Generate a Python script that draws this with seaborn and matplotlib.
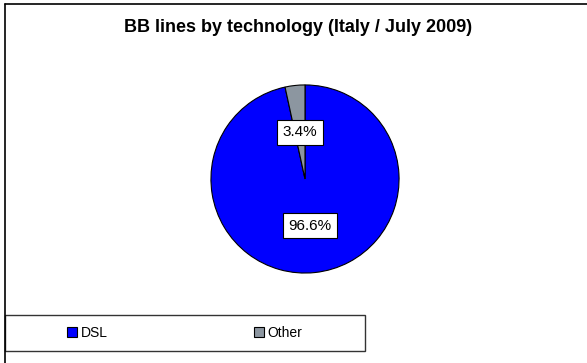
import matplotlib
matplotlib.use('Agg')
import matplotlib.pyplot as plt
import seaborn as sns
from matplotlib.lines import Line2D
from matplotlib.patches import Rectangle

# data
labels = ['DSL', 'Other']
shares = [96.6, 3.4]
colors = ['#0000FF', '#8C96A0']
title = 'BB lines by technology (Italy / July 2009)'

sns.set_style('white')
plt.rcParams['font.family'] = ['Liberation Sans', 'DejaVu Sans']
plt.rcParams['text.color'] = 'black'

W, H = 587, 363
fig = plt.figure(figsize=(W / 100, H / 100), dpi=100)

# pie axes: center ~ (305, 179) px, radius ~ 95 px
cx, cy, r = 305, 179, 95
ax = fig.add_axes([(cx - r) / W, (H - cy - r) / H, 2 * r / W, 2 * r / H])
wedges, texts, autotexts = ax.pie(
    shares, colors=colors, startangle=90, counterclock=False,
    autopct='%.1f%%', pctdistance=0.5,
    wedgeprops=dict(edgecolor='black', linewidth=0.8),
    textprops=dict(fontsize=11, color='black'))
for t in autotexts:
    t.set_bbox(dict(boxstyle='square,pad=0.35', facecolor='white', edgecolor='black', linewidth=0.8))
ax.set_xlim(-1.01, 1.01)
ax.set_ylim(-1.01, 1.01)
ax.set_aspect('equal')
ax.axis('off')

# title
fig.text(298 / W, 1 - 27 / H, title, ha='center', va='center',
         fontsize=13, fontweight='bold', color='black')

# outer chart frame (top and left edges visible)
fig.add_artist(Line2D([5 / W, 1], [1 - 4 / H, 1 - 4 / H], color='black', linewidth=1.2))
fig.add_artist(Line2D([5 / W, 5 / W], [0, 1 - 4 / H], color='black', linewidth=1.2))

# legend box
bx0, bx1, by0, by1 = 5, 365, 315, 351
fig.add_artist(Rectangle((bx0 / W, 1 - by1 / H), (bx1 - bx0) / W, (by1 - by0) / H,
                         facecolor='none', edgecolor='#333333', linewidth=1.0))
fig.legend(wedges, labels, loc='center', ncol=2, frameon=False,
           bbox_to_anchor=((bx0 + bx1) / 2 / W, 1 - (by0 + by1) / 2 / H),
           handlelength=0.7, handleheight=0.7, handletextpad=0.3,
           columnspacing=10.5, fontsize=10, labelcolor='black')

fig.savefig('out.png', dpi=100)
